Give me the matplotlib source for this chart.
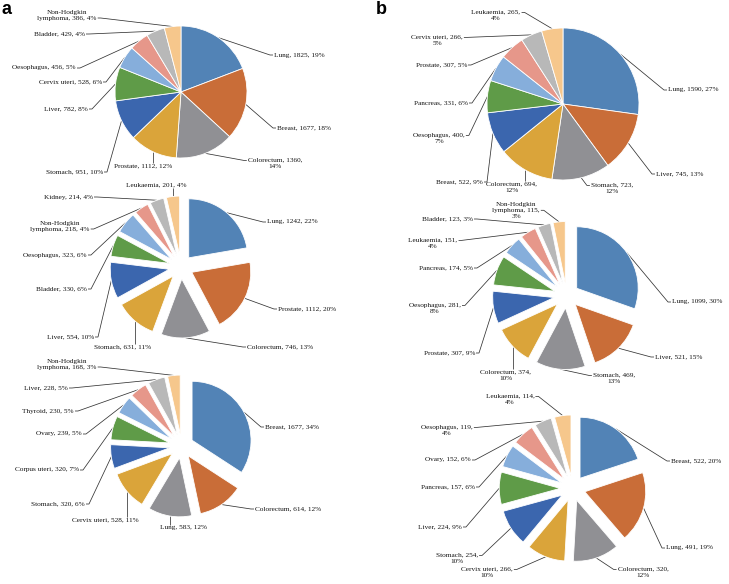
import numpy as np
import matplotlib
matplotlib.use("Agg")
import matplotlib.pyplot as plt

W, H = 729, 584

colors = ["#5283B6", "#C96D38", "#909094", "#DAA43A", "#3B66AE",
          "#5F9B48", "#86AEDB", "#E6978A", "#B8B8B8", "#F6C78C"]

# ---------------- data ----------------
a1_names = ["Lung", "Breast", "Colorectum", "Prostate", "Stomach", "Liver",
            "Cervix uteri", "Oesophagus", "Bladder", "Non-Hodgkin lymphoma"]
a1_vals = [1825, 1677, 1360, 1112, 951, 782, 528, 456, 429, 386]
a1_pcts = [19, 18, 14, 12, 10, 8, 6, 5, 4, 4]

a2_names = ["Lung", "Prostate", "Colorectum", "Stomach", "Liver", "Bladder",
            "Oesophagus", "Non-Hodgkin lymphoma", "Kidney", "Leukaemia"]
a2_vals = [1242, 1112, 746, 631, 554, 330, 323, 218, 214, 201]
a2_pcts = [22, 20, 13, 11, 10, 6, 6, 4, 4, 4]

a3_names = ["Breast", "Colorectum", "Lung", "Cervix uteri", "Stomach",
            "Corpus uteri", "Ovary", "Thyroid", "Liver", "Non-Hodgkin lymphoma"]
a3_vals = [1677, 614, 583, 528, 320, 320, 239, 230, 228, 168]
a3_pcts = [34, 12, 12, 11, 6, 7, 5, 5, 5, 3]

b1_names = ["Lung", "Liver", "Stomach", "Colorectum", "Breast", "Oesophagus",
            "Pancreas", "Prostate", "Cervix uteri", "Leukaemia"]
b1_vals = [1590, 745, 723, 694, 522, 400, 331, 307, 266, 265]
b1_pcts = [27, 13, 12, 12, 9, 7, 6, 5, 5, 4]

b2_names = ["Lung", "Liver", "Stomach", "Colorectum", "Prostate", "Oesophagus",
            "Pancreas", "Leukaemia", "Bladder", "Non-Hodgkin lymphoma"]
b2_vals = [1099, 521, 469, 374, 307, 281, 174, 151, 123, 115]
b2_pcts = [30, 15, 13, 10, 9, 8, 5, 4, 3, 3]

b3_names = ["Breast", "Lung", "Colorectum", "Cervix uteri", "Stomach", "Liver",
            "Pancreas", "Ovary", "Oesophagus", "Leukaemia"]
b3_vals = [522, 491, 320, 266, 254, 224, 157, 152, 119, 114]
b3_pcts = [20, 19, 12, 10, 10, 9, 6, 6, 4, 4]

# ---------------- layout (pixel coordinates) ----------------
# pie: (cx, cy, radius, explode_px)
# label: (x, y_first_line_center, ha, attach side, attach line, wrap mode)
pies = [
    (a1_names, a1_vals, a1_pcts, (181, 92, 66, 0), [
        (274, 55, "left", "l", 0, "n"),
        (277, 128, "left", "l", 0, "n"),
        (275, 162, "center", "l", 0, "p"),
        (143, 166, "center", "t", 0, "n"),
        (103, 172, "right", "r", 0, "n"),
        (88, 109, "right", "r", 0, "n"),
        (102, 82, "right", "r", 0, "n"),
        (76, 68, "right", "r", 0, "n"),
        (85, 34, "right", "r", 0, "n"),
        (67, 14, "center", "r", 1, "h"),
    ]),
    (a2_names, a2_vals, a2_pcts, (181, 267, 59, 12), [
        (267, 222, "left", "l", 0, "n"),
        (278, 309, "left", "l", 0, "n"),
        (247, 347, "left", "l", 0, "n"),
        (123, 347, "center", "t", 0, "n"),
        (94, 337, "right", "r", 0, "n"),
        (87, 289, "right", "r", 0, "n"),
        (87, 255, "right", "r", 0, "n"),
        (60, 225, "center", "r", 1, "h"),
        (93, 197, "right", "r", 0, "n"),
        (156, 185, "center", "b", 0, "n"),
    ]),
    (a3_names, a3_vals, a3_pcts, (181.5, 446, 59, 12), [
        (265, 427, "left", "l", 0, "n"),
        (255, 509, "left", "l", 0, "n"),
        (184, 528, "center", "t", 0, "n"),
        (105, 520, "center", "t", 0, "n"),
        (85, 504, "right", "r", 0, "n"),
        (79, 470, "right", "r", 0, "n"),
        (82, 434, "right", "r", 0, "n"),
        (74, 411, "right", "r", 0, "n"),
        (68, 388, "right", "r", 0, "n"),
        (67, 363, "center", "r", 1, "h"),
    ]),
    (b1_names, b1_vals, b1_pcts, (563, 104, 76, 0), [
        (668, 90, "left", "l", 0, "n"),
        (656, 174, "left", "l", 0, "n"),
        (612, 187, "center", "l", 0, "p"),
        (512, 186, "center", "t", 0, "p"),
        (483, 182, "right", "r", 0, "n"),
        (439, 137, "center", "r", 0, "p"),
        (468, 103, "right", "r", 0, "n"),
        (467, 65, "right", "r", 0, "n"),
        (437, 39, "center", "r", 0, "p"),
        (496, 14, "center", "r", 0, "p"),
    ]),
    (b2_names, b2_vals, b2_pcts, (566.5, 295.5, 61.5, 12.5), [
        (672, 302, "left", "l", 0, "n"),
        (655, 357, "left", "l", 0, "n"),
        (614, 377, "center", "l", 0, "p"),
        (506, 374, "center", "t", 0, "p"),
        (475, 353, "right", "r", 0, "n"),
        (435, 307, "center", "r", 0, "p"),
        (473, 268, "right", "r", 0, "n"),
        (433, 242, "center", "r", 0, "p"),
        (473, 219, "right", "r", 0, "n"),
        (516, 206, "center", "r", 1, "hp"),
    ]),
    (b3_names, b3_vals, b3_pcts, (572.7, 488.4, 61, 12.5), [
        (671, 461, "left", "l", 0, "n"),
        (666, 548, "left", "l", 0, "n"),
        (643, 571, "center", "l", 0, "p"),
        (487, 571, "center", "r", 0, "p"),
        (457, 557, "center", "r", 0, "p"),
        (462, 527, "right", "r", 0, "n"),
        (475, 487, "right", "r", 0, "n"),
        (471, 460, "right", "r", 0, "n"),
        (447, 429, "center", "r", 0, "p"),
        (510, 398, "center", "r", 0, "p"),
    ]),
]

FONT = ["Liberation Serif", "DejaVu Serif"]
FS = 5.2
LSP = 1.3
TXT_C = "#111111"
LINE_C = "#333333"

fig = plt.figure(figsize=(W / 100, H / 100), dpi=100)
ax = fig.add_axes([0, 0, 1, 1])


def make_label(name, val, pct, mode):
    if "h" in mode:
        name = name.replace(" ", "\n", 1)
    if "p" in mode:
        return f"{name}, {val},\n{pct}%"
    return f"{name}, {val}, {pct}%"


pending = []
for names, vals, pcts, (cx, cy, r, ex), labs in pies:
    n = len(vals)
    ax.pie(vals, colors=colors, startangle=90, counterclock=False,
           center=(cx, H - cy), radius=r, explode=[ex] * n,
           wedgeprops=dict(edgecolor="white", linewidth=0.6))
    fr = np.array(vals, dtype=float) / np.sum(vals)
    start = np.concatenate([[0], np.cumsum(fr)[:-1]])
    mid = start + fr / 2
    for i in range(n):
        ang = np.deg2rad(90 - 360 * mid[i])
        ex_x = cx + (ex + r) * np.cos(ang)
        ex_y = cy - (ex + r) * np.sin(ang)
        x, y, ha, side, li, mode = labs[i]
        txt = make_label(names[i], vals[i], pcts[i], mode)
        nl = txt.count("\n") + 1
        if nl == 1:
            t = ax.text(x, H - y, txt, ha=ha, va="center", fontsize=FS,
                        family=FONT, color=TXT_C, linespacing=LSP)
        else:
            t = ax.text(x, H - y + 4.4, txt, ha=ha, va="top", fontsize=FS,
                        family=FONT, color=TXT_C, linespacing=LSP,
                        multialignment="center")
        pending.append((t, nl, side, li, ex_x, ex_y))

ax.set_xlim(0, W)
ax.set_ylim(0, H)
ax.set_aspect("equal")
ax.axis("off")

fig.canvas.draw()
renderer = fig.canvas.get_renderer()
inv = ax.transData.inverted()
for t, nl, side, li, ex_x, ex_y in pending:
    bb = t.get_window_extent(renderer)
    (x0, y0), (x1, y1) = inv.transform([[bb.x0, bb.y0], [bb.x1, bb.y1]])
    top = H - y1
    lh = (y1 - y0) / nl
    ay = top + (li + 0.5) * lh
    sx, sy = ex_x, ex_y
    if side == "l":
        px = [x0 - 1, x0 - 4, sx]
        py = [ay, ay, sy]
    elif side == "r":
        px = [x1 + 1, x1 + 4, sx]
        py = [ay, ay, sy]
    elif side == "t":
        px = [sx, sx]
        py = [top - 0.5, sy]
    else:
        bot = H - y0
        px = [sx, sx]
        py = [bot + 0.5, sy]
    ax.plot(px, [H - v for v in py], color=LINE_C, lw=0.55,
            solid_capstyle="butt", zorder=0)

fig.text(2 / W, 1 - 10 / H, "a", fontsize=13, fontweight="bold",
         family=["Liberation Sans", "DejaVu Sans"], va="center", ha="left")
fig.text(376 / W, 1 - 10 / H, "b", fontsize=13, fontweight="bold",
         family=["Liberation Sans", "DejaVu Sans"], va="center", ha="left")

fig.savefig("out.png", dpi=100)
